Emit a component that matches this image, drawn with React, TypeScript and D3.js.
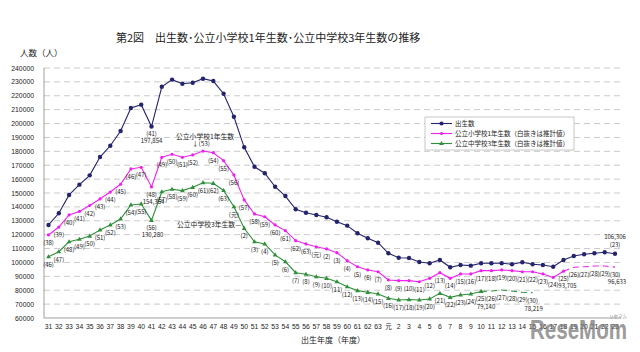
import * as d3 from "d3";

const WIDTH = 640;
const HEIGHT = 352;

// birth year (S31 .. S63, H元 .. H23)
const years = [
  "31", "32", "33", "34", "35", "36", "37", "38", "39", "40",
  "41", "42", "43", "44", "45", "46", "47", "48", "49", "50",
  "51", "52", "53", "54", "55", "56", "57", "58", "59", "60",
  "61", "62", "63", "元", "2", "3", "4", "5", "6", "7",
  "8", "9", "10", "11", "12", "13", "14", "15", "16", "17",
  "18", "19", "20", "21", "22", "23",
];

// school year labels shown in brackets (S38 .. H30)
const schoolYears = [
  "38", "39", "40", "41", "42", "43", "44", "45", "46", "47",
  "48", "49", "50", "51", "52", "53", "54", "55", "56", "57",
  "58", "59", "60", "61", "62", "63", "元", "2", "3", "4",
  "5", "6", "7", "8", "9", "10", "11", "12", "13", "14",
  "15", "16", "17", "18", "19", "20", "21", "22", "23", "24",
  "25", "26", "27", "28", "29", "30",
];

const births = [
  127000, 135400, 148600, 156000, 162700, 175900, 184000, 194600, 211200, 213600,
  197854, 226500, 231600, 228700, 229400, 232300, 230600, 221500, 204900, 182900,
  168900, 164200, 154500, 147800, 138300, 135800, 134200, 132500, 129300, 126500,
  121000, 117400, 114200, 106600, 103400, 103200, 100300, 99400, 101800, 96500,
  98200, 97700, 99400, 99400, 99400, 98700, 100100, 98700, 98200, 96900,
  101800, 104600, 105900, 106600, 107300, 106306,
];

const elementary = [
  119800, 125500, 134200, 136700, 141000, 145700, 150700, 156300, 167300, 168500,
  154354, 175700, 177900, 175700, 177400, 180200, 179000, 173300, 163000, 145000,
  134900, 132900, 127000, 122900, 115700, 113300, 111300, 109700, 107000, 101300,
  96900, 94600, 93300, 87400, 86900, 86900, 86100, 88600, 92600, 88600,
  91700, 91700, 94100, 94100, 94600, 94100, 93300, 93300, 91700, 89200,
  93705, 96500, 96900, 97400, 97400, 96633,
];

const juniorHigh = [
  104100, 107700, 114900, 116700, 119000, 123400, 127000, 131300, 141400, 142100,
  130280, 150900, 152700, 151700, 154100, 157400, 157000, 151800, 140100, 124600,
  114900, 113300, 105400, 100500, 92600, 91500, 89700, 88600, 86100, 82500,
  79700, 78500, 77300, 74200, 73000, 73300, 73000, 73700, 77800, 74900,
  76600, 77300, 79140, 79400, 80200, 79400, 78500, 78219,
];

// first index drawn dashed (estimates)
const elemEstimateFrom = 50;
const jhEstimateFrom = 42;
const jhOffset = 8; // junior high label = birth year + 15

const yTicks = d3.range(60000, 240001, 10000);

const BLUE = "#24246e";
const PINK = "#ee22ee";
const GREEN = "#2f8f3a";
const FONT = "'Noto Sans CJK JP', 'Noto Sans', sans-serif";

export default function App() {
  const x = d3.scalePoint<string>().domain(years).range([48.5, 615]);
  const y = d3.scaleLinear().domain([60000, 240000]).range([318, 68]);
  const px = (i: number) => x(years[i]) as number;

  const line = d3
    .line<number>()
    .x((_, i) => px(i))
    .y((d) => y(d));

  const lineFrom = (arr: number[], start: number) =>
    d3
      .line<number>()
      .x((_, i) => px(i + start))
      .y((d) => y(d))(arr.slice(start));

  const tri = (cx: number, cy: number) =>
    `M${cx},${cy - 2.6}L${cx + 2.4},${cy + 1.6}L${cx - 2.4},${cy + 1.6}Z`;

  return (
    <svg
      width={WIDTH}
      height={HEIGHT}
      style={{ position: "absolute", left: 0, top: 0, background: "#fff" }}
      fontFamily={FONT}
    >
      <rect width={WIDTH} height={HEIGHT} fill="#fff" />
      <text x={116} y={42} fontSize={11} fill="#222">
        第2図　出生数･公立小学校1年生数･公立中学校3年生数の推移
      </text>
      <text x={20} y={56} fontSize={8.5} fill="#222">
        人数（人）
      </text>

      {/* grid + y ticks */}
      {yTicks.map((t) => (
        <g key={t}>
          {t > 60000 && (
            <line
              x1={44}
              x2={621}
              y1={y(t)}
              y2={y(t)}
              stroke="#bdbdbd"
              strokeWidth={0.8}
              strokeDasharray="6,4"
            />
          )}
          <text
            x={34}
            y={y(t) + 2.5}
            fontSize={6.8}
            textAnchor="end"
            fill="#222"
            fontFamily="'Liberation Sans', Arial, sans-serif"
          >
            {t}
          </text>
        </g>
      ))}
      <line x1={44} x2={44} y1={y(240000)} y2={318} stroke="#888" strokeWidth={0.8} />
      <line x1={44} x2={621} y1={318} y2={318} stroke="#888" strokeWidth={0.8} />

      {/* x ticks */}
      {years.map((yr) => (
        <text
          key={yr}
          x={x(yr)}
          y={329}
          fontSize={yr === "元" ? 6.5 : 6.8}
          textAnchor="middle"
          fill="#222"
          fontFamily={yr === "元" ? FONT : "'Liberation Sans', Arial, sans-serif"}
        >
          {yr}
        </text>
      ))}
      <text x={333} y={343} fontSize={8} textAnchor="middle" fill="#222">
        出生年度（年度）
      </text>

      {/* births */}
      <path d={line(births) || ""} fill="none" stroke={BLUE} strokeWidth={1.1} />
      {births.map((d, i) => (
        <circle key={i} cx={px(i)} cy={y(d)} r={2.2} fill={BLUE} />
      ))}

      {/* elementary 1st grade */}
      <path
        d={line(elementary.slice(0, elemEstimateFrom + 1)) || ""}
        fill="none"
        stroke={PINK}
        strokeWidth={1.1}
      />
      <path
        d={lineFrom(elementary, elemEstimateFrom) || ""}
        fill="none"
        stroke={PINK}
        strokeWidth={1.1}
        strokeDasharray="6,4"
      />
      {elementary.slice(0, elemEstimateFrom + 1).map((d, i) => (
        <circle key={i} cx={px(i)} cy={y(d)} r={1.6} fill={PINK} />
      ))}

      {/* junior high 3rd grade */}
      <path
        d={line(juniorHigh.slice(0, jhEstimateFrom + 1)) || ""}
        fill="none"
        stroke={GREEN}
        strokeWidth={1.1}
      />
      <path
        d={lineFrom(juniorHigh, jhEstimateFrom) || ""}
        fill="none"
        stroke={GREEN}
        strokeWidth={1.1}
        strokeDasharray="6,4"
      />
      {juniorHigh.slice(0, jhEstimateFrom + 1).map((d, i) => (
        <path key={i} d={tri(px(i), y(d))} fill={GREEN} />
      ))}

      {/* bracket labels */}
      <g fontSize={6} fill="#222" textAnchor="middle">
        {elementary.map((d, i) =>
          i === 15 ? null : (
            <text key={"e" + i} x={px(i)} y={y(d) + 10}>
              ({schoolYears[i]})
            </text>
          )
        )}
        {juniorHigh.map((d, i) => (
          <text key={"j" + i} x={px(i)} y={y(d) + 10}>
            ({schoolYears[i + jhOffset]})
          </text>
        ))}
        <text x={px(10)} y={y(births[10]) + 9}>({years[10]})</text>
        <text x={px(10)} y={y(births[10]) + 16}>{d3.format(",")(births[10])}</text>
        <text x={px(55)} y={y(births[55]) - 15}>{d3.format(",")(births[55])}</text>
        <text x={px(55)} y={y(births[55]) - 7}>({years[55]})</text>
        <text x={px(10) + 2} y={y(elementary[10]) + 17}>{d3.format(",")(elementary[10])}</text>
        <text x={px(10) + 1} y={y(juniorHigh[10]) + 17}>{d3.format(",")(juniorHigh[10])}</text>
        <text x={px(50) + 4} y={y(elementary[50]) + 17}>{d3.format(",")(elementary[50])}</text>
        <text x={px(55) + 2} y={y(elementary[55]) + 17}>{d3.format(",")(elementary[55])}</text>
        <text x={px(42) + 5} y={y(juniorHigh[42]) + 18}>{d3.format(",")(juniorHigh[42])}</text>
        <text x={px(47) + 1} y={y(juniorHigh[47]) + 18}>{d3.format(",")(juniorHigh[47])}</text>
      </g>

      {/* annotations */}
      <text x={176} y={139} fontSize={6.8} fill="#222">公立小学校1年生数</text>
      <text x={px(15) - 2} y={146} fontSize={6.5} fill="#222" textAnchor="middle">
        ↓({schoolYears[15]})
      </text>
      <text x={177} y={227} fontSize={6.8} fill="#222">公立中学校3年生数—</text>

      {/* legend */}
      <g>
        <rect x={425} y={117} width={149} height={33} fill="#fff" stroke="#b0b0b0" strokeWidth={0.7} />
        <line x1={431} x2={452} y1={123.5} y2={123.5} stroke={BLUE} strokeWidth={1.1} />
        <circle cx={441.5} cy={123.5} r={2.1} fill={BLUE} />
        <text x={455} y={126} fontSize={6.5} fill="#222">出生数</text>
        <line x1={431} x2={452} y1={133.5} y2={133.5} stroke={PINK} strokeWidth={1.1} />
        <circle cx={441.5} cy={133.5} r={1.6} fill={PINK} />
        <text x={455} y={136} fontSize={6.5} fill="#222">公立小学校1年生数（白抜きは推計値）</text>
        <line x1={431} x2={452} y1={143.5} y2={143.5} stroke={GREEN} strokeWidth={1.1} />
        <path d={tri(441.5, 143.5)} fill={GREEN} />
        <text x={455} y={146} fontSize={6.5} fill="#222">公立中学校3年生数（白抜きは推計値）</text>
      </g>

      {/* watermark */}
      <text
        x={530}
        y={339}
        fontSize={27}
        fontWeight="bold"
        fill="#7a7a7a"
        opacity={0.75}
        textLength={97}
        lengthAdjust="spacingAndGlyphs"
        fontFamily="'Liberation Sans', Arial, sans-serif"
      >
        ReseMom
      </text>
      <text x={627} y={318} fontSize={4.5} fill="#888" textAnchor="end">
        リセマム
      </text>
    </svg>
  );
}
